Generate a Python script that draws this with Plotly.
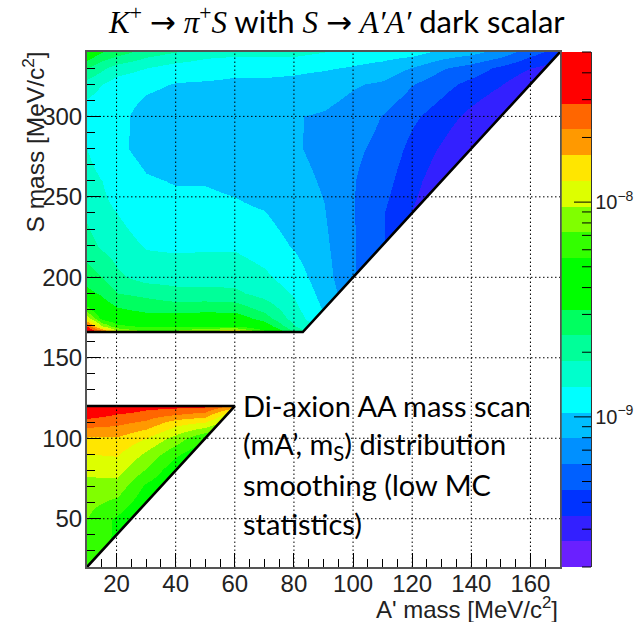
import math
import plotly.graph_objects as go

# ---- data: colour level (0..20, log-spaced) on a grid ----
LOG_MIN, LOG_MAX, N_LEVELS = -9.699, -7.301, 20
BAND_COLOURS = ["#6a20ff", "#3320ff", "#0033ff", "#0060ff", "#0090ff", "#00bfff", "#00ffff",
                "#00ffcc", "#00ff99", "#00ff60", "#00ff00", "#00ff00", "#33ff00", "#80ff00",
                "#ddff00", "#ffe600", "#ff9900", "#ff6600", "#ff0000", "#ff0000"]

upper_x = [10, 15, 20, 30, 40, 50, 60, 70, 80, 90, 100, 110, 120, 130, 140, 150, 160, 170]
upper_s = [166, 170, 175, 180, 190, 200, 220, 240, 260, 280, 300, 320, 330, 340]
upper_columns = [
    [19.5, 18, 14.5, 12.5, 10.3, 9.5, 8.4, 7.8, 7.4, 7.0, 6.3, 7.6, 9, 11],
    [18.2, 14, 11.5, 10.8, 9.8, 9, 7.8, 7.2, 7.0, 6.4, 6.1, 7, 8.2, 10],
    [14.5, 12.3, 11, 10.2, 9, 8.2, 7.5, 7.0, 6.6, 6.2, 6.3, 6.5, 7.5, 9.5],
    [13, 11.8, 10.5, 9.8, 8.7, 7.6, 6.9, 6.3, 6.1, 5.7, 5.6, 6.2, 7, 8.5],
    [13.4, 12, 10.5, 9.7, 8.3, 7.6, 6.8, 6.3, 5.95, 5.5, 5.4, 5.95, 6.5, 8],
    [14.5, 12, 10.7, 9.8, 8.3, 7.6, 6.85, 6.3, 5.95, 5.4, 5.3, 5.9, 6.4, 7.4],
    [15.5, 12, 10.7, 9.7, 8.2, 7.6, 6.85, 6.2, 5.8, 5.3, 5.2, 5.85, 6.2, 7.3],
    [12.5, 10.8, 9.5, 8.8, 7.6, 7.2, 6.5, 6.05, 5.5, 5.25, 5.15, 5.8, 6.3, 7.3],
    [9, 8.1, 7.5, 7.3, 6.9, 6.5, 5.9, 5.5, 5.3, 5.1, 5.05, 5.75, 6.2, 7.3],
    [6.5, 6.3, 6.1, 5.9, 5.6, 5.4, 5.2, 5.05, 4.9, 4.75, 4.9, 5.5, 6.1, 7.0],
    [5, 5, 5, 4.5, 4.3, 4.1, 4.1, 4.05, 4.05, 4.2, 4.55, 5.1, 5.9, 6.6],
    [3.3, 3.3, 3.3, 3.3, 3.2, 3.1, 3.05, 3.05, 3.4, 3.7, 3.95, 4.85, 5.6, 6.5],
    [1.9, 1.9, 1.9, 1.9, 1.9, 1.9, 1.9, 1.95, 2.3, 2.7, 3.2, 4.05, 4.95, 6.4],
    [1.2, 1.2, 1.2, 1.2, 1.2, 1.2, 1.2, 1.3, 1.4, 1.85, 2.5, 3.35, 4.1, 5.7],
    [0.8, 0.8, 0.8, 0.8, 0.8, 0.8, 0.8, 0.8, 0.8, 0.9, 1.7, 2.7, 3.55, 5.3],
    [0.8, 0.8, 0.8, 0.8, 0.8, 0.8, 0.8, 0.8, 0.8, 0.8, 0.95, 2.05, 2.75, 4.6],
    [0.8, 0.8, 0.8, 0.8, 0.8, 0.8, 0.8, 0.8, 0.8, 0.8, 0.9, 1.2, 2.0, 3.4],
    [0.8, 0.8, 0.8, 0.8, 0.8, 0.8, 0.8, 0.8, 0.8, 0.8, 0.8, 1.0, 1.5, 2.5],
]

lower_x = [10, 20, 30, 40, 50, 60]
lower_s = [20, 30, 40, 50, 60, 70, 80, 90, 100, 110, 115, 120]
lower_columns = [
    [12.6, 12.7, 12.8, 13.0, 13.3, 13.7, 14.2, 15.0, 15.8, 17.6, 18.5, 19.5],
    [11.5, 11.6, 11.8, 11.8, 12.7, 13.6, 14.4, 15.1, 15.9, 17.3, 18, 19],
    [10.5, 10.5, 10.5, 10.6, 11.2, 11.8, 12.9, 13.8, 15, 16.8, 17.6, 18.4],
    [10.5, 10.5, 10.5, 10.5, 10.6, 10.8, 11.2, 12.2, 13.6, 15.5, 17.1, 18.3],
    [10.5, 10.5, 10.5, 10.5, 10.5, 10.5, 10.5, 11, 12, 15, 16.6, 18.2],
    [10.5, 10.5, 10.5, 10.5, 10.5, 10.5, 10.5, 10.5, 11, 13, 14, 16.5],
]

# kinematic edges of the allowed regions (A' mass, S mass)
edge_upper_x, edge_upper_s = [10, 83, 170], [166, 166, 340]
edge_lower_x, edge_lower_s = [10, 60, 10], [20, 120, 120]
# masked (not allowed) regions
mask_gap_x, mask_gap_s = [0, 180, 180, 0], [120, 120, 166, 166]
mask_upper_x, mask_upper_s = [83, 170, 180, 180], [166, 340, 340, 160]
mask_lower_x, mask_lower_s = [10, 60, 70, 70], [20, 120, 120, 15]

grid_x = [20, 40, 60, 80, 100, 120, 140, 160]
grid_s = [50, 100, 150, 200, 250, 300]

palette_major_ticks = [1e-9, 1e-8]
palette_minor_ticks = [2e-10, 3e-10, 4e-10, 5e-10, 6e-10, 7e-10, 8e-10, 9e-10,
                       2e-9, 3e-9, 4e-9, 5e-9, 6e-9, 7e-9, 8e-9, 9e-9,
                       2e-8, 3e-8, 4e-8, 5e-8]

SERIF = "font-family:'Liberation Serif'"
ARROW = "<span style=\"font-family:'DejaVu Sans'\">→</span>"
title_text = (f'<span style="{SERIF}"><i>K</i><sup>+</sup></span> {ARROW} '
              f'<span style="{SERIF}"><i>π</i><sup>+</sup><i>S</i></span>'
              f' with <span style="{SERIF}"><i>S</i></span> {ARROW} '
              f'<span style="{SERIF}"><i>A′A′</i></span> dark scalar')
note_lines = ["Di-axion AA mass scan", "(mA’, m<sub>S</sub>) distribution",
              "smoothing (low MC", "statistics)"]
note_y_px = [405, 445, 484, 523]

# ---- page geometry (pixels in the window; the page margin is removed below) ----
W, H = 634, 622
L, R, T, B = 87, 591, 52, 567
px_x = lambda p: (p - L) / (R - L)
px_y = lambda p: (B - p) / (B - T)

step = (LOG_MAX - LOG_MIN) / N_LEVELS
to_log = lambda level: LOG_MIN + level * step
colourscale = []
for k, c in enumerate(BAND_COLOURS):
    colourscale += [[k / N_LEVELS, c], [(k + 1) / N_LEVELS, c]]


def rows(columns):
    return [[to_log(col[j]) for col in columns] for j in range(len(columns[0]))]


fig = go.Figure()
for xs, ss, cols in [(upper_x, upper_s, upper_columns), (lower_x, lower_s, lower_columns)]:
    fig.add_trace(go.Heatmap(x=xs, y=ss, z=rows(cols), zmin=LOG_MIN, zmax=LOG_MAX,
                             colorscale=colourscale, zsmooth="best", showscale=False,
                             hoverinfo="skip"))
for mx, ms in [(mask_gap_x, mask_gap_s), (mask_upper_x, mask_upper_s), (mask_lower_x, mask_lower_s)]:
    fig.add_trace(go.Scatter(x=mx, y=ms, fill="toself", fillcolor="white", mode="none",
                             showlegend=False, hoverinfo="skip"))
for ex, es in [(edge_upper_x, edge_upper_s), (edge_lower_x, edge_lower_s)]:
    fig.add_trace(go.Scatter(x=ex, y=es, mode="lines", line=dict(color="black", width=2.6),
                             showlegend=False, hoverinfo="skip", cliponaxis=False))

# palette drawn on its own log axis
edges = [10 ** to_log(k) for k in range(N_LEVELS + 1)]
fig.add_trace(go.Heatmap(x=[0, 1], y=edges, z=[[to_log(k + 0.5)] for k in range(N_LEVELS)],
                         zmin=LOG_MIN, zmax=LOG_MAX, colorscale=colourscale, showscale=False,
                         xaxis="x2", yaxis="y2", hoverinfo="skip"))

grid_style = dict(color="black", width=1, dash="1.5px,2.5px")
shapes = [dict(type="line", layer="above", xref="x", yref="paper", x0=g, x1=g, y0=0, y1=1, line=grid_style)
          for g in grid_x]
shapes += [dict(type="line", layer="above", xref="paper", yref="y", x0=0, x1=px_x(560), y0=g, y1=g, line=grid_style)
           for g in grid_s]
# palette ticks, placed at the log-scale fraction of each value
for values, start_px in [(palette_major_ticks, 574), (palette_minor_ticks, 582)]:
    for v in values:
        frac = (math.log10(v) - LOG_MIN) / (LOG_MAX - LOG_MIN)
        shapes.append(dict(type="line", layer="above", xref="paper", yref="paper",
                           x0=px_x(start_px), x1=1, y0=frac, y1=frac,
                           line=dict(color="black", width=1)))

tick_font = dict(family="Liberation Sans", size=24, color="#222222")
annotations = [
    dict(text=title_text, x=px_x(336), y=px_y(20), xref="paper", yref="paper", showarrow=False,
         xanchor="center", yanchor="middle", font=dict(family="Lato", size=31, color="black")),
    dict(text="A' mass [MeV/c<sup>2</sup>]", x=px_x(560), y=px_y(608), xref="paper", yref="paper",
         showarrow=False, xanchor="right", yanchor="middle",
         font=dict(family="Liberation Sans", size=24, color="#222222")),
    dict(text="S mass [MeV/c<sup>2</sup>]", x=px_x(33), y=px_y(50), xref="paper", yref="paper",
         showarrow=False, xanchor="center", yanchor="top", textangle=-90,
         font=dict(family="Liberation Sans", size=24.5, color="#222222")),
]
for line, yp in zip(note_lines, note_y_px):
    annotations.append(dict(text=line, x=px_x(241), y=px_y(yp), xref="paper", yref="paper",
                            showarrow=False, xanchor="left", yanchor="middle",
                            font=dict(family="Lato", size=29, color="black")))

fig.update_layout(
    width=W, height=H,
    margin=dict(l=L, r=W - R, t=T, b=H - B, autoexpand=False),
    paper_bgcolor="white", plot_bgcolor="white", showlegend=False,
    shapes=shapes, annotations=annotations,
    xaxis=dict(domain=[0, px_x(560)], range=[10, 170], dtick=20, tick0=0, showgrid=False, zeroline=False,
               ticks="inside", ticklen=14, tickcolor="black", tickwidth=1, tickfont=tick_font,
               ticklabelstandoff=-6,
               minor=dict(ticks="inside", ticklen=8, dtick=5, tick0=0, tickcolor="black", showgrid=False),
               showline=True, linecolor="#555555", linewidth=2, mirror=True, layer="above traces"),
    yaxis=dict(range=[20, 340], dtick=50, tick0=0, showgrid=False, zeroline=False,
               ticks="inside", ticklen=14, tickcolor="black", tickwidth=1, tickfont=tick_font,
               ticklabelstandoff=-2,
               minor=dict(ticks="inside", ticklen=8, dtick=10, tick0=0, tickcolor="black", showgrid=False),
               showline=True, linecolor="#555555", linewidth=2, mirror=True, layer="above traces"),
    xaxis2=dict(domain=[px_x(561.5), 1], range=[0, 1], anchor="y2", showticklabels=False, ticks="",
                showgrid=False, zeroline=False, showline=False),
    yaxis2=dict(type="log", range=[LOG_MIN, LOG_MAX], anchor="x2", side="right", dtick=1,
                showgrid=False, zeroline=False, exponentformat="power", ticks="",
                tickfont=dict(family="Liberation Sans", size=16, color="#222222"),
                showline=True, linecolor="#333333", linewidth=1, layer="above traces"),
)

fig.write_html("out.html", config=dict(displayModeBar=False),
               post_script="document.body.style.margin='0';document.documentElement.style.overflow='hidden';")
